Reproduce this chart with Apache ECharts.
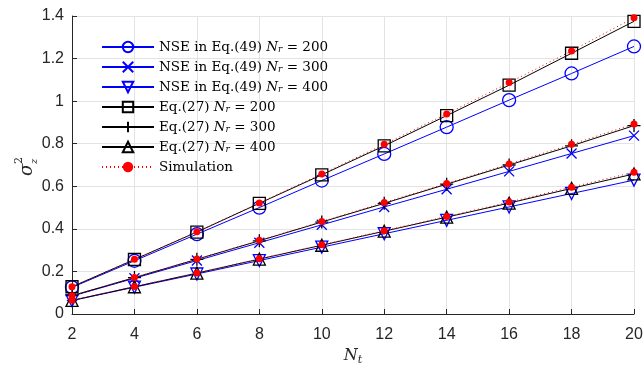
<!DOCTYPE html>
<html>
<head>
<meta charset="utf-8">
<script src="https://cdn.jsdelivr.net/npm/echarts@6/dist/echarts.min.js"></script>
<style>
  html, body { margin: 0; padding: 0; background: #fff; }
  #main { width: 644px; height: 365px; }
</style>
</head>
<body>
<div id="main"></div>
<script>
// x values (Nt)
var nt = [2, 4, 6, 8, 10, 12, 14, 16, 18, 20];

// NSE in Eq.(49)
var nse200 = [0.125, 0.250, 0.375, 0.500, 0.627, 0.752, 0.878, 1.005, 1.130, 1.257];
var nse300 = [0.084, 0.168, 0.251, 0.335, 0.419, 0.503, 0.586, 0.670, 0.754, 0.838];
var nse400 = [0.063, 0.126, 0.188, 0.251, 0.314, 0.377, 0.440, 0.503, 0.566, 0.629];

// Eq.(27)
var eq200 = [0.128, 0.256, 0.385, 0.520, 0.654, 0.790, 0.932, 1.075, 1.225, 1.375];
var eq300 = [0.086, 0.171, 0.257, 0.344, 0.432, 0.520, 0.610, 0.700, 0.790, 0.885];
var eq400 = [0.064, 0.128, 0.192, 0.258, 0.323, 0.389, 0.455, 0.521, 0.590, 0.658];

// Simulation
var sim200 = [0.128, 0.257, 0.386, 0.522, 0.658, 0.797, 0.940, 1.087, 1.236, 1.392];
var sim300 = [0.086, 0.172, 0.258, 0.346, 0.434, 0.524, 0.613, 0.705, 0.797, 0.893];
var sim400 = [0.065, 0.129, 0.193, 0.259, 0.325, 0.391, 0.458, 0.526, 0.596, 0.666];

var yTicks = [0, 0.2, 0.4, 0.6, 0.8, 1, 1.2, 1.4];

var BLUE = '#0000ff';
var BLACK = '#000000';
var RED = '#ff0000';
var crossPath = 'path://M0,0L10,10M10,0L0,10';
var plusPath = 'path://M5,0L5,10M0,5L10,5';

function pairs(ys) {
    return nt.map(function (x, i) { return [x, ys[i]]; });
}

function curve(name, ys, color, symbol, size, extra) {
    var s = {
        name: name,
        type: 'line',
        data: pairs(ys),
        symbol: symbol,
        symbolSize: size,
        clip: false,
        lineStyle: {color: color, width: 1},
        itemStyle: {color: 'rgba(0,0,0,0)', borderColor: color, borderWidth: 1.3},
        emphasis: {disabled: true},
        z: 2
    };
    if (extra) {
        for (var k in extra) s[k] = extra[k];
    }
    return s;
}

function simCurve(name, ys) {
    return {
        name: name,
        type: 'line',
        data: pairs(ys),
        symbol: 'circle',
        symbolSize: 7,
        clip: false,
        lineStyle: {color: RED, width: 1, type: [1, 3]},
        itemStyle: {color: RED, borderWidth: 0},
        emphasis: {disabled: true},
        z: 4
    };
}

var names = [
    'NSE in Eq.(49) Nr = 200',
    'NSE in Eq.(49) Nr = 300',
    'NSE in Eq.(49) Nr = 400',
    'Eq.(27) Nr = 200',
    'Eq.(27) Nr = 300',
    'Eq.(27) Nr = 400',
    'Simulation'
];

var chart = echarts.init(document.getElementById('main'));

chart.setOption({
    animation: false,
    backgroundColor: '#fff',
    grid: {left: 72, right: 10, top: 16, bottom: 51, containLabel: false, outerBoundsMode: 'none'},
    legend: {
        data: names,
        orient: 'vertical',
        left: 96,
        top: 35,
        itemWidth: 52,
        itemHeight: 13,
        itemGap: 5.5,
        textStyle: {
            fontFamily: 'DejaVu Serif',
            fontSize: 13.5,
            color: '#000',
            rich: {
                it: {fontFamily: 'DejaVu Serif', fontStyle: 'italic', fontSize: 13.5, color: '#000'},
                sub: {fontFamily: 'DejaVu Serif', fontStyle: 'italic', fontSize: 9, color: '#000', padding: [6, 0, 0, 0]}
            }
        },
        formatter: function (name) {
            var m = name.match(/^(.*) Nr = (\d+)$/);
            if (!m) return name;
            return m[1] + ' {it|N}{sub|r} = ' + m[2];
        }
    },
    xAxis: {
        type: 'value',
        min: 2,
        max: 20,
        interval: 2,
        name: '{n|N}{s|t}',
        nameLocation: 'middle',
        nameGap: 31,
        nameTextStyle: {
            rich: {
                n: {fontFamily: 'DejaVu Serif', fontStyle: 'italic', fontSize: 16, color: '#262626'},
                s: {fontFamily: 'DejaVu Serif', fontStyle: 'italic', fontSize: 11, color: '#262626', padding: [8, 0, 0, 0]}
            }
        },
        axisLine: {lineStyle: {color: '#262626', width: 1}},
        axisTick: {inside: true, length: 5, lineStyle: {color: '#262626'}},
        axisLabel: {fontFamily: 'Liberation Sans', fontSize: 16, color: '#262626', margin: 13},
        splitLine: {show: true, lineStyle: {color: '#e3e3e3', width: 1}}
    },
    yAxis: {
        type: 'value',
        min: 0,
        max: 1.4,
        interval: 0.2,
        axisLine: {show: true, lineStyle: {color: '#262626', width: 1}},
        axisTick: {show: true, inside: true, length: 5, lineStyle: {color: '#262626'}},
        axisLabel: {
            fontFamily: 'Liberation Sans', fontSize: 16, color: '#262626', margin: 8,
            formatter: function (v) {
                for (var i = 0; i < yTicks.length; i++) {
                    if (Math.abs(yTicks[i] - v) < 1e-9) return String(yTicks[i]);
                }
                return '';
            }
        },
        splitLine: {show: true, lineStyle: {color: '#e3e3e3', width: 1}}
    },
    graphic: [{
        type: 'group',
        left: 14,
        top: 157,
        rotation: Math.PI / 2,
        children: [
            {type: 'text', x: 0, y: 0, style: {text: 'σ', fontFamily: 'DejaVu Serif', fontStyle: 'italic', fontSize: 18, fill: '#262626'}},
            {type: 'text', x: 12, y: -4, style: {text: '2', fontFamily: 'DejaVu Serif', fontSize: 11, fill: '#262626'}},
            {type: 'text', x: 12, y: 11, style: {text: 'z', fontFamily: 'DejaVu Serif', fontStyle: 'italic', fontSize: 10, fill: '#262626'}}
        ]
    }],
    series: [
        curve(names[0], nse200, BLUE, 'circle', 13),
        curve(names[1], nse300, BLUE, crossPath, 10),
        curve(names[2], nse400, BLUE, 'triangle', 12, {symbolRotate: 180}),
        curve(names[3], eq200, BLACK, 'rect', 12, {z: 3}),
        curve(names[4], eq300, BLACK, plusPath, 13, {z: 3}),
        curve(names[5], eq400, BLACK, 'triangle', 12, {z: 3}),
        simCurve(names[6], sim200),
        simCurve(names[6], sim300),
        simCurve(names[6], sim400)
    ]
});
</script>
</body>
</html>
